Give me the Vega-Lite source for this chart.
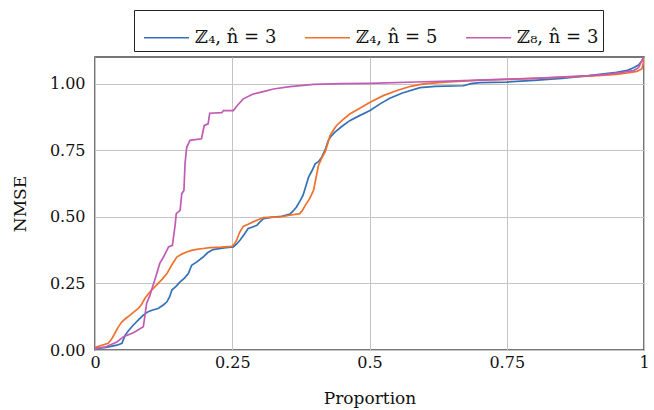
{
  "$schema": "https://vega.github.io/schema/vega-lite/v6.json",
  "width": 549,
  "height": 293,
  "autosize": {"type": "none"},
  "padding": {"left": 95, "top": 57, "right": 10, "bottom": 60},
  "background": "white",
  "config": {
    "view": {"stroke": "#4a4a4a", "strokeWidth": 1.5},
    "font": "DejaVu Serif"
  },
  "datasets": {
    "curves": [
      {"s": "ℤ₄, n̂ = 3", "x": 0, "y": 0.005},
      {"s": "ℤ₄, n̂ = 3", "x": 0.02, "y": 0.01},
      {"s": "ℤ₄, n̂ = 3", "x": 0.04, "y": 0.018},
      {"s": "ℤ₄, n̂ = 3", "x": 0.049, "y": 0.025},
      {"s": "ℤ₄, n̂ = 3", "x": 0.055, "y": 0.056},
      {"s": "ℤ₄, n̂ = 3", "x": 0.062, "y": 0.075},
      {"s": "ℤ₄, n̂ = 3", "x": 0.07, "y": 0.094},
      {"s": "ℤ₄, n̂ = 3", "x": 0.08, "y": 0.115},
      {"s": "ℤ₄, n̂ = 3", "x": 0.088, "y": 0.131},
      {"s": "ℤ₄, n̂ = 3", "x": 0.097, "y": 0.144},
      {"s": "ℤ₄, n̂ = 3", "x": 0.105, "y": 0.15},
      {"s": "ℤ₄, n̂ = 3", "x": 0.115, "y": 0.156},
      {"s": "ℤ₄, n̂ = 3", "x": 0.125, "y": 0.17},
      {"s": "ℤ₄, n̂ = 3", "x": 0.131, "y": 0.181},
      {"s": "ℤ₄, n̂ = 3", "x": 0.136, "y": 0.2},
      {"s": "ℤ₄, n̂ = 3", "x": 0.14, "y": 0.225},
      {"s": "ℤ₄, n̂ = 3", "x": 0.148, "y": 0.24},
      {"s": "ℤ₄, n̂ = 3", "x": 0.155, "y": 0.256},
      {"s": "ℤ₄, n̂ = 3", "x": 0.163, "y": 0.27},
      {"s": "ℤ₄, n̂ = 3", "x": 0.17, "y": 0.287},
      {"s": "ℤ₄, n̂ = 3", "x": 0.176, "y": 0.318},
      {"s": "ℤ₄, n̂ = 3", "x": 0.185, "y": 0.33},
      {"s": "ℤ₄, n̂ = 3", "x": 0.197, "y": 0.349},
      {"s": "ℤ₄, n̂ = 3", "x": 0.205, "y": 0.365},
      {"s": "ℤ₄, n̂ = 3", "x": 0.215, "y": 0.377},
      {"s": "ℤ₄, n̂ = 3", "x": 0.235, "y": 0.383},
      {"s": "ℤ₄, n̂ = 3", "x": 0.252, "y": 0.387},
      {"s": "ℤ₄, n̂ = 3", "x": 0.258, "y": 0.398},
      {"s": "ℤ₄, n̂ = 3", "x": 0.264, "y": 0.412},
      {"s": "ℤ₄, n̂ = 3", "x": 0.272, "y": 0.435},
      {"s": "ℤ₄, n̂ = 3", "x": 0.279, "y": 0.456},
      {"s": "ℤ₄, n̂ = 3", "x": 0.287, "y": 0.462},
      {"s": "ℤ₄, n̂ = 3", "x": 0.295, "y": 0.468},
      {"s": "ℤ₄, n̂ = 3", "x": 0.3, "y": 0.48},
      {"s": "ℤ₄, n̂ = 3", "x": 0.307, "y": 0.493},
      {"s": "ℤ₄, n̂ = 3", "x": 0.32, "y": 0.498},
      {"s": "ℤ₄, n̂ = 3", "x": 0.34, "y": 0.502},
      {"s": "ℤ₄, n̂ = 3", "x": 0.355, "y": 0.51},
      {"s": "ℤ₄, n̂ = 3", "x": 0.361, "y": 0.522},
      {"s": "ℤ₄, n̂ = 3", "x": 0.367, "y": 0.537},
      {"s": "ℤ₄, n̂ = 3", "x": 0.373, "y": 0.558},
      {"s": "ℤ₄, n̂ = 3", "x": 0.379, "y": 0.581},
      {"s": "ℤ₄, n̂ = 3", "x": 0.384, "y": 0.615},
      {"s": "ℤ₄, n̂ = 3", "x": 0.389, "y": 0.649},
      {"s": "ℤ₄, n̂ = 3", "x": 0.395, "y": 0.672},
      {"s": "ℤ₄, n̂ = 3", "x": 0.401, "y": 0.699},
      {"s": "ℤ₄, n̂ = 3", "x": 0.407, "y": 0.707},
      {"s": "ℤ₄, n̂ = 3", "x": 0.413, "y": 0.724},
      {"s": "ℤ₄, n̂ = 3", "x": 0.419, "y": 0.75},
      {"s": "ℤ₄, n̂ = 3", "x": 0.425, "y": 0.787},
      {"s": "ℤ₄, n̂ = 3", "x": 0.431, "y": 0.805},
      {"s": "ℤ₄, n̂ = 3", "x": 0.437, "y": 0.818},
      {"s": "ℤ₄, n̂ = 3", "x": 0.45, "y": 0.84},
      {"s": "ℤ₄, n̂ = 3", "x": 0.464, "y": 0.861},
      {"s": "ℤ₄, n̂ = 3", "x": 0.48, "y": 0.878},
      {"s": "ℤ₄, n̂ = 3", "x": 0.501, "y": 0.899},
      {"s": "ℤ₄, n̂ = 3", "x": 0.52, "y": 0.925},
      {"s": "ℤ₄, n̂ = 3", "x": 0.537, "y": 0.945},
      {"s": "ℤ₄, n̂ = 3", "x": 0.56, "y": 0.965},
      {"s": "ℤ₄, n̂ = 3", "x": 0.592, "y": 0.985},
      {"s": "ℤ₄, n̂ = 3", "x": 0.62, "y": 0.99},
      {"s": "ℤ₄, n̂ = 3", "x": 0.671, "y": 0.992},
      {"s": "ℤ₄, n̂ = 3", "x": 0.685, "y": 1.0},
      {"s": "ℤ₄, n̂ = 3", "x": 0.701, "y": 1.004},
      {"s": "ℤ₄, n̂ = 3", "x": 0.75, "y": 1.006},
      {"s": "ℤ₄, n̂ = 3", "x": 0.8, "y": 1.012},
      {"s": "ℤ₄, n̂ = 3", "x": 0.85, "y": 1.02},
      {"s": "ℤ₄, n̂ = 3", "x": 0.9, "y": 1.03},
      {"s": "ℤ₄, n̂ = 3", "x": 0.95, "y": 1.042},
      {"s": "ℤ₄, n̂ = 3", "x": 0.97, "y": 1.05},
      {"s": "ℤ₄, n̂ = 3", "x": 0.981, "y": 1.06},
      {"s": "ℤ₄, n̂ = 3", "x": 0.99, "y": 1.07},
      {"s": "ℤ₄, n̂ = 3", "x": 0.996, "y": 1.085},
      {"s": "ℤ₄, n̂ = 3", "x": 1.0, "y": 1.1},

      {"s": "ℤ₄, n̂ = 5", "x": 0, "y": 0.01},
      {"s": "ℤ₄, n̂ = 5", "x": 0.024, "y": 0.025},
      {"s": "ℤ₄, n̂ = 5", "x": 0.03, "y": 0.04},
      {"s": "ℤ₄, n̂ = 5", "x": 0.036, "y": 0.062},
      {"s": "ℤ₄, n̂ = 5", "x": 0.042, "y": 0.085},
      {"s": "ℤ₄, n̂ = 5", "x": 0.049, "y": 0.106},
      {"s": "ℤ₄, n̂ = 5", "x": 0.057, "y": 0.12},
      {"s": "ℤ₄, n̂ = 5", "x": 0.064, "y": 0.131},
      {"s": "ℤ₄, n̂ = 5", "x": 0.072, "y": 0.145},
      {"s": "ℤ₄, n̂ = 5", "x": 0.079, "y": 0.156},
      {"s": "ℤ₄, n̂ = 5", "x": 0.085, "y": 0.172},
      {"s": "ℤ₄, n̂ = 5", "x": 0.091, "y": 0.194},
      {"s": "ℤ₄, n̂ = 5", "x": 0.097, "y": 0.21},
      {"s": "ℤ₄, n̂ = 5", "x": 0.103, "y": 0.225},
      {"s": "ℤ₄, n̂ = 5", "x": 0.109, "y": 0.237},
      {"s": "ℤ₄, n̂ = 5", "x": 0.115, "y": 0.25},
      {"s": "ℤ₄, n̂ = 5", "x": 0.123, "y": 0.267},
      {"s": "ℤ₄, n̂ = 5", "x": 0.131, "y": 0.287},
      {"s": "ℤ₄, n̂ = 5", "x": 0.14, "y": 0.32},
      {"s": "ℤ₄, n̂ = 5", "x": 0.149, "y": 0.349},
      {"s": "ℤ₄, n̂ = 5", "x": 0.158, "y": 0.36},
      {"s": "ℤ₄, n̂ = 5", "x": 0.167, "y": 0.368},
      {"s": "ℤ₄, n̂ = 5", "x": 0.176, "y": 0.374},
      {"s": "ℤ₄, n̂ = 5", "x": 0.185, "y": 0.378},
      {"s": "ℤ₄, n̂ = 5", "x": 0.197, "y": 0.381},
      {"s": "ℤ₄, n̂ = 5", "x": 0.209, "y": 0.384},
      {"s": "ℤ₄, n̂ = 5", "x": 0.23, "y": 0.386},
      {"s": "ℤ₄, n̂ = 5", "x": 0.249, "y": 0.389},
      {"s": "ℤ₄, n̂ = 5", "x": 0.254, "y": 0.398},
      {"s": "ℤ₄, n̂ = 5", "x": 0.258, "y": 0.412},
      {"s": "ℤ₄, n̂ = 5", "x": 0.263, "y": 0.44},
      {"s": "ℤ₄, n̂ = 5", "x": 0.27, "y": 0.464},
      {"s": "ℤ₄, n̂ = 5", "x": 0.279, "y": 0.472},
      {"s": "ℤ₄, n̂ = 5", "x": 0.288, "y": 0.481},
      {"s": "ℤ₄, n̂ = 5", "x": 0.298, "y": 0.49},
      {"s": "ℤ₄, n̂ = 5", "x": 0.307, "y": 0.497},
      {"s": "ℤ₄, n̂ = 5", "x": 0.337, "y": 0.5},
      {"s": "ℤ₄, n̂ = 5", "x": 0.355, "y": 0.506},
      {"s": "ℤ₄, n̂ = 5", "x": 0.373, "y": 0.512},
      {"s": "ℤ₄, n̂ = 5", "x": 0.378, "y": 0.525},
      {"s": "ℤ₄, n̂ = 5", "x": 0.383, "y": 0.543},
      {"s": "ℤ₄, n̂ = 5", "x": 0.391, "y": 0.568},
      {"s": "ℤ₄, n̂ = 5", "x": 0.398, "y": 0.599},
      {"s": "ℤ₄, n̂ = 5", "x": 0.402, "y": 0.64},
      {"s": "ℤ₄, n̂ = 5", "x": 0.407, "y": 0.693},
      {"s": "ℤ₄, n̂ = 5", "x": 0.413, "y": 0.72},
      {"s": "ℤ₄, n̂ = 5", "x": 0.419, "y": 0.743},
      {"s": "ℤ₄, n̂ = 5", "x": 0.424, "y": 0.775},
      {"s": "ℤ₄, n̂ = 5", "x": 0.428, "y": 0.805},
      {"s": "ℤ₄, n̂ = 5", "x": 0.434, "y": 0.825},
      {"s": "ℤ₄, n̂ = 5", "x": 0.44, "y": 0.843},
      {"s": "ℤ₄, n̂ = 5", "x": 0.45, "y": 0.862},
      {"s": "ℤ₄, n̂ = 5", "x": 0.464, "y": 0.886},
      {"s": "ℤ₄, n̂ = 5", "x": 0.48, "y": 0.905},
      {"s": "ℤ₄, n̂ = 5", "x": 0.501, "y": 0.93},
      {"s": "ℤ₄, n̂ = 5", "x": 0.525, "y": 0.955},
      {"s": "ℤ₄, n̂ = 5", "x": 0.55, "y": 0.974},
      {"s": "ℤ₄, n̂ = 5", "x": 0.575, "y": 0.99},
      {"s": "ℤ₄, n̂ = 5", "x": 0.598, "y": 0.999},
      {"s": "ℤ₄, n̂ = 5", "x": 0.625, "y": 1.004},
      {"s": "ℤ₄, n̂ = 5", "x": 0.653, "y": 1.007},
      {"s": "ℤ₄, n̂ = 5", "x": 0.701, "y": 1.013},
      {"s": "ℤ₄, n̂ = 5", "x": 0.75, "y": 1.016},
      {"s": "ℤ₄, n̂ = 5", "x": 0.8, "y": 1.02},
      {"s": "ℤ₄, n̂ = 5", "x": 0.85, "y": 1.024},
      {"s": "ℤ₄, n̂ = 5", "x": 0.9, "y": 1.028},
      {"s": "ℤ₄, n̂ = 5", "x": 0.95, "y": 1.035},
      {"s": "ℤ₄, n̂ = 5", "x": 0.97, "y": 1.04},
      {"s": "ℤ₄, n̂ = 5", "x": 0.987, "y": 1.046},
      {"s": "ℤ₄, n̂ = 5", "x": 0.996, "y": 1.055},
      {"s": "ℤ₄, n̂ = 5", "x": 0.999, "y": 1.08},
      {"s": "ℤ₄, n̂ = 5", "x": 1.0, "y": 1.1},

      {"s": "ℤ₈, n̂ = 3", "x": 0, "y": 0.005},
      {"s": "ℤ₈, n̂ = 3", "x": 0.02, "y": 0.012},
      {"s": "ℤ₈, n̂ = 3", "x": 0.04, "y": 0.03},
      {"s": "ℤ₈, n̂ = 3", "x": 0.052, "y": 0.05},
      {"s": "ℤ₈, n̂ = 3", "x": 0.07, "y": 0.065},
      {"s": "ℤ₈, n̂ = 3", "x": 0.088, "y": 0.087},
      {"s": "ℤ₈, n̂ = 3", "x": 0.091, "y": 0.13},
      {"s": "ℤ₈, n̂ = 3", "x": 0.094, "y": 0.175},
      {"s": "ℤ₈, n̂ = 3", "x": 0.1, "y": 0.205},
      {"s": "ℤ₈, n̂ = 3", "x": 0.103, "y": 0.225},
      {"s": "ℤ₈, n̂ = 3", "x": 0.11, "y": 0.27},
      {"s": "ℤ₈, n̂ = 3", "x": 0.118, "y": 0.325},
      {"s": "ℤ₈, n̂ = 3", "x": 0.125, "y": 0.35},
      {"s": "ℤ₈, n̂ = 3", "x": 0.134, "y": 0.387},
      {"s": "ℤ₈, n̂ = 3", "x": 0.141, "y": 0.393},
      {"s": "ℤ₈, n̂ = 3", "x": 0.146, "y": 0.47},
      {"s": "ℤ₈, n̂ = 3", "x": 0.148, "y": 0.512},
      {"s": "ℤ₈, n̂ = 3", "x": 0.155, "y": 0.524},
      {"s": "ℤ₈, n̂ = 3", "x": 0.158, "y": 0.587},
      {"s": "ℤ₈, n̂ = 3", "x": 0.162, "y": 0.599},
      {"s": "ℤ₈, n̂ = 3", "x": 0.164, "y": 0.7},
      {"s": "ℤ₈, n̂ = 3", "x": 0.167, "y": 0.761},
      {"s": "ℤ₈, n̂ = 3", "x": 0.173, "y": 0.787},
      {"s": "ℤ₈, n̂ = 3", "x": 0.194, "y": 0.793},
      {"s": "ℤ₈, n̂ = 3", "x": 0.199, "y": 0.843},
      {"s": "ℤ₈, n̂ = 3", "x": 0.206, "y": 0.849},
      {"s": "ℤ₈, n̂ = 3", "x": 0.209, "y": 0.889},
      {"s": "ℤ₈, n̂ = 3", "x": 0.231, "y": 0.891},
      {"s": "ℤ₈, n̂ = 3", "x": 0.234, "y": 0.899},
      {"s": "ℤ₈, n̂ = 3", "x": 0.252, "y": 0.899},
      {"s": "ℤ₈, n̂ = 3", "x": 0.26, "y": 0.92},
      {"s": "ℤ₈, n̂ = 3", "x": 0.27, "y": 0.943},
      {"s": "ℤ₈, n̂ = 3", "x": 0.288, "y": 0.961},
      {"s": "ℤ₈, n̂ = 3", "x": 0.31, "y": 0.972},
      {"s": "ℤ₈, n̂ = 3", "x": 0.325, "y": 0.98},
      {"s": "ℤ₈, n̂ = 3", "x": 0.355, "y": 0.989},
      {"s": "ℤ₈, n̂ = 3", "x": 0.398, "y": 0.997},
      {"s": "ℤ₈, n̂ = 3", "x": 0.45, "y": 1.0},
      {"s": "ℤ₈, n̂ = 3", "x": 0.5, "y": 1.001},
      {"s": "ℤ₈, n̂ = 3", "x": 0.6, "y": 1.007},
      {"s": "ℤ₈, n̂ = 3", "x": 0.701, "y": 1.013},
      {"s": "ℤ₈, n̂ = 3", "x": 0.8, "y": 1.02},
      {"s": "ℤ₈, n̂ = 3", "x": 0.9, "y": 1.03},
      {"s": "ℤ₈, n̂ = 3", "x": 0.926, "y": 1.034},
      {"s": "ℤ₈, n̂ = 3", "x": 0.96, "y": 1.042},
      {"s": "ℤ₈, n̂ = 3", "x": 0.981, "y": 1.049},
      {"s": "ℤ₈, n̂ = 3", "x": 0.99, "y": 1.06},
      {"s": "ℤ₈, n̂ = 3", "x": 0.996, "y": 1.086},
      {"s": "ℤ₈, n̂ = 3", "x": 0.999, "y": 1.1}
    ]
  },
  "data": {"name": "curves"},
  "mark": {"type": "line", "strokeWidth": 1.7, "clip": true},
  "encoding": {
    "x": {
      "field": "x",
      "type": "quantitative",
      "scale": {"domain": [0, 1], "nice": false, "zero": false},
      "axis": {
        "title": "Proportion",
        "values": [0, 0.25, 0.5, 0.75, 1],
        "labelExpr": "'' + datum.value",
        "labelFlush": false,
        "labelFont": "DejaVu Serif",
        "labelFontSize": 16,
        "labelColor": "#111",
        "labelPadding": 4,
        "ticks": false,
        "domain": false,
        "grid": true,
        "gridColor": "#c4c4c4",
        "gridWidth": 1,
        "titleFont": "DejaVu Serif",
        "titleFontSize": 17,
        "titleFontWeight": "normal",
        "titleColor": "#111",
        "titlePadding": 20
      }
    },
    "y": {
      "field": "y",
      "type": "quantitative",
      "scale": {"domain": [0, 1.1], "nice": false, "zero": false},
      "axis": {
        "title": "NMSE",
        "values": [0, 0.25, 0.5, 0.75, 1],
        "format": ".2f",
        "labelFont": "DejaVu Serif",
        "labelFontSize": 16,
        "labelColor": "#111",
        "labelPadding": 10,
        "ticks": false,
        "domain": false,
        "grid": true,
        "gridColor": "#c4c4c4",
        "gridWidth": 1,
        "titleFont": "DejaVu Serif",
        "titleFontSize": 17,
        "titleFontWeight": "normal",
        "titleColor": "#111",
        "titlePadding": 20
      }
    },
    "color": {
      "field": "s",
      "type": "nominal",
      "sort": ["ℤ₄, n̂ = 3", "ℤ₄, n̂ = 5", "ℤ₈, n̂ = 3"],
      "scale": {
        "domain": ["ℤ₄, n̂ = 3", "ℤ₄, n̂ = 5", "ℤ₈, n̂ = 3"],
        "range": ["#3471b5", "#f0702c", "#c15bb3"]
      },
      "legend": {
        "title": null,
        "orient": "none",
        "legendX": 39,
        "legendY": -47,
        "direction": "horizontal",
        "strokeColor": "#222",
        "padding": 4,
        "symbolType": "stroke",
        "symbolSize": 2025,
        "symbolStrokeWidth": 1.6,
        "symbolOffset": 5,
        "labelFont": "DejaVu Serif",
        "labelFontSize": 18,
        "labelColor": "#111",
        "labelOffset": 5,
        "labelExpr": "datum.label + '\u2002'",
        "columnPadding": 22,
        "labelLimit": 200
      }
    },
    "order": {"field": "x", "type": "quantitative"}
  }
}
